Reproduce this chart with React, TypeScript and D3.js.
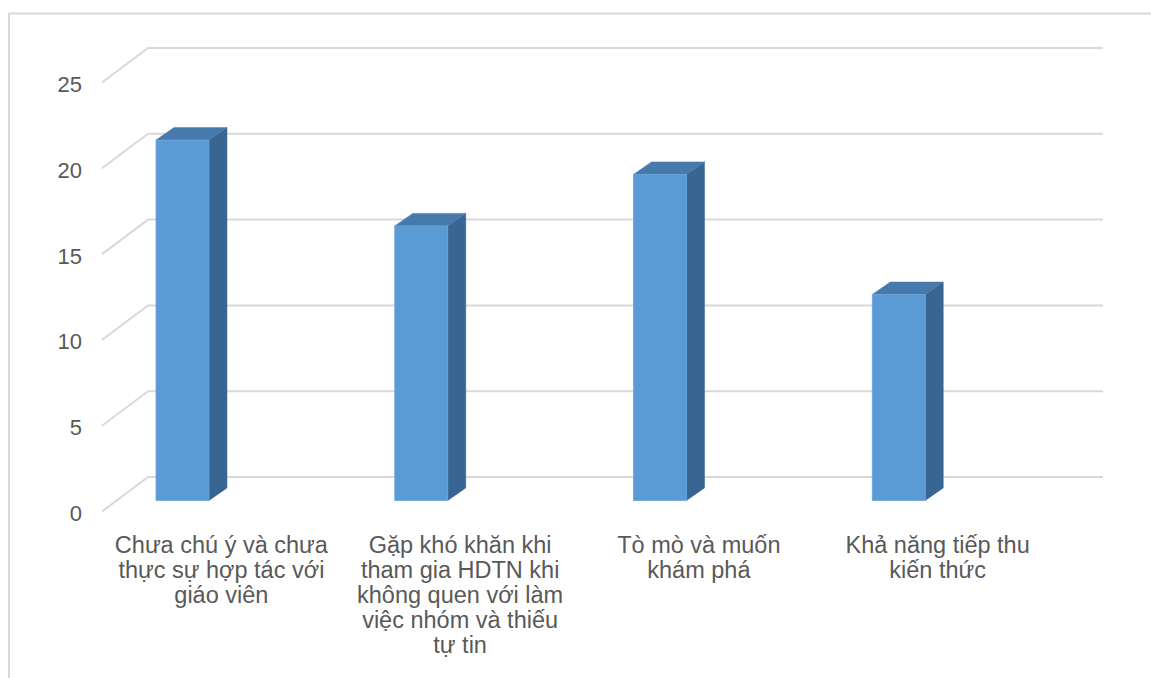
import React, { useEffect } from "react";
import * as d3 from "d3";

const categories = [
  "Chưa chú ý và chưa\nthực sự hợp tác với\ngiáo viên",
  "Gặp khó khăn khi\ntham gia HDTN khi\nkhông quen với làm\nviệc nhóm và thiếu\ntự tin",
  "Tò mò và muốn\nkhám phá",
  "Khả năng tiếp thu\nkiến thức",
];
const values = [21, 16, 19, 12];
const yTicks = [0, 5, 10, 15, 20, 25];

const W = 1151;
const H = 678;

export default function App() {
  useEffect(() => {
    document.body.style.margin = "0";
  }, []);

  const frontX0 = 102;
  const wallW = 955;
  const floorDX = 46;
  const floorDY = -34.5;
  const x = d3.scaleBand<string>().domain(categories).range([frontX0, frontX0 + wallW]);
  const yBack = d3.scaleLinear().domain([0, 25]).range([477, 48]);
  const barFrontFrac = 0.32;
  const barOffset = 54;
  const barW = 53;
  const barDX = 18;
  const barDY = -12.5;

  const textColor = "#595959";
  const gridColor = "#d9d9d9";
  const font = "'Liberation Sans', Arial, sans-serif";

  return (
    <svg width={W} height={H} style={{ display: "block", background: "#fff" }}>
      <rect x={9} y={13.5} width={W + 20} height={H + 20} fill="none" stroke={gridColor} strokeWidth={2} />
      {yTicks.map((t) => {
        const yb = yBack(t);
        const yf = yb - floorDY;
        return (
          <g key={t}>
            <polyline
              points={`${frontX0},${yf} ${frontX0 + floorDX},${yb} ${frontX0 + floorDX + wallW},${yb}`}
              fill="none"
              stroke={gridColor}
              strokeWidth={2}
            />
            <text
              x={82}
              y={yf + 2}
              textAnchor="end"
              dominantBaseline="central"
              fontFamily={font}
              fontSize={22}
              fill={textColor}
            >
              {t}
            </text>
          </g>
        );
      })}
      {categories.map((c, i) => {
        const v = values[i];
        const oy = barFrontFrac * floorDY;
        const x0 = (x(c) as number) + barOffset;
        const x1 = x0 + barW;
        const yBase = yBack(0) - floorDY + oy;
        const yTop = yBase - (yBack(0) - yBack(v));
        const top = `${x0},${yTop} ${x0 + barDX},${yTop + barDY} ${x1 + barDX},${yTop + barDY} ${x1},${yTop}`;
        const side = `${x1},${yTop} ${x1 + barDX},${yTop + barDY} ${x1 + barDX},${yBase + barDY} ${x1},${yBase}`;
        return (
          <g key={c}>
            <polygon points={side} fill="#386592" stroke="#386592" strokeWidth={0.5} />
            <polygon points={top} fill="#4679AC" stroke="#4679AC" strokeWidth={0.5} />
            <rect x={x0} y={yTop} width={barW} height={yBase - yTop} fill="#5B9BD5" stroke="#6aa5dc" strokeWidth={0.8} />
          </g>
        );
      })}
      {categories.map((c) => {
        const cx = (x(c) as number) + x.bandwidth() / 2;
        const lines = c.split("\n");
        return (
          <text key={"l" + c} textAnchor="middle" fontFamily={font} fontSize={23.5} fill={textColor}>
            {lines.map((ln, j) => (
              <tspan key={j} x={cx} y={553 + j * 25}>
                {ln}
              </tspan>
            ))}
          </text>
        );
      })}
    </svg>
  );
}
